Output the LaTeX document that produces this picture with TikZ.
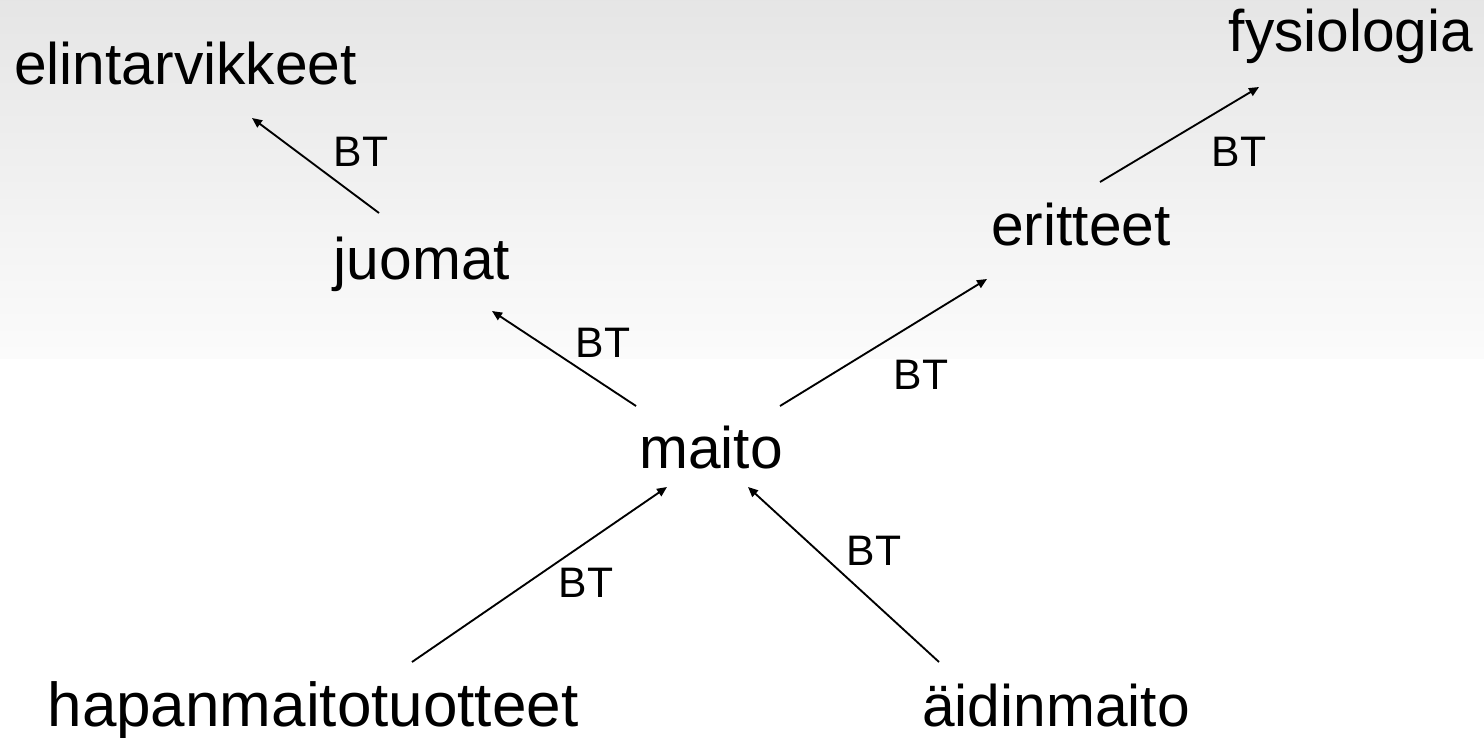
\documentclass[tikz,border=0pt]{standalone}
\usepackage{fontspec}
\setmainfont{Liberation Sans}
\usetikzlibrary{arrows.meta}

\begin{document}
\begin{tikzpicture}[x=0.75pt,y=-0.75pt]
\tikzstyle{every node}+=[inner sep=0pt]
\tikzstyle{term}=[font=\fontsize{44}{50}\selectfont, anchor=base]
\tikzstyle{rel}=[font=\fontsize{32}{36}\selectfont]
\tikzstyle{bt}=[black, line width=1.4pt, -{Triangle[length=7.5pt,width=6.5pt]}]
\useasboundingbox (0,0) rectangle (1484,738);
\shade [top color=black!10, bottom color=black!1.5] (0,0) rectangle (1484,358);
\node[term] (elint) at (185.5,85) {elintarvikkeet};
\node[term] (fysio) at (1351,52) {fysiologia};
\node[term] (juomat) at (422,279) {juomat};
\node[term] (erit) at (1081,245) {eritteet};
\node[term] (maito) at (711,468) {maito};
\node[term, font=\fontsize{46.5}{52}\selectfont] (hapan) at (313,726) {hapanmaitotuotteet};
\node[term] (aidin) at (1056,726) {äidinmaito};
\draw[bt] ([shift={(-43,-66)}]juomat.base) -- node[rel, shift={(45.5,-13.5)}] (bt1) {BT} ([shift={(66.5,33)}]elint.base);
\draw[bt] ([shift={(19,-63)}]erit.base) -- node[rel, shift={(59.5,17.5)}] (bt2) {BT} ([shift={(-92,35)}]fysio.base);
\draw[bt] ([shift={(-75,-62)}]maito.base) -- node[rel, shift={(39,-15.5)}] (bt3) {BT} ([shift={(70,32)}]juomat.base);
\draw[bt] ([shift={(69,-62)}]maito.base) -- node[rel, shift={(37.5,32.5)}] (bt4) {BT} ([shift={(-94,34)}]erit.base);
\draw[bt] ([shift={(99,-64)}]hapan.base) -- node[rel, shift={(46.5,8.5)}] (bt5) {BT} ([shift={(-44,19)}]maito.base);
\draw[bt] ([shift={(-117,-64)}]aidin.base) -- node[rel, shift={(30.5,-23.5)}] (bt6) {BT} ([shift={(37,19)}]maito.base);
\end{tikzpicture}
\end{document}
